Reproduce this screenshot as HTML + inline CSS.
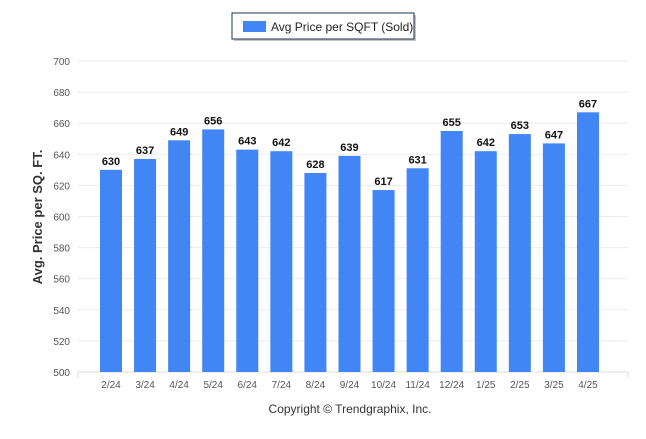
<!DOCTYPE html>
<html><head><meta charset="utf-8"><style>
body{margin:0;background:#fff;font-family:"Liberation Sans",sans-serif}
</style></head><body>
<svg width="646" height="434" viewBox="0 0 646 434" xmlns="http://www.w3.org/2000/svg">
<rect x="0" y="0" width="646" height="434" fill="#fff"/>
<g>
<rect x="234" y="15" width="182" height="26" fill="#888" opacity="0.5"/>
<rect x="232" y="13" width="182" height="26" fill="#fff" stroke="#1f3050" stroke-width="1"/>
<rect x="243" y="21" width="23" height="11" fill="#4285f4"/>
<text x="271" y="31" font-size="12" fill="#222">Avg Price per SQFT (Sold)</text>
</g>
<g id="grid"></g>
<g id="bars"></g>
<text transform="translate(42,217) rotate(-90)" text-anchor="middle" font-size="13" font-weight="bold" fill="#333">Avg. Price per SQ. FT.</text>
<text x="350" y="413" text-anchor="middle" font-size="12" fill="#333">Copyright © Trendgraphix, Inc.</text>
</svg>
<script>
const categories=["2/24","3/24","4/24","5/24","6/24","7/24","8/24","9/24","10/24","11/24","12/24","1/25","2/25","3/25","4/25"];
const values=[630,637,649,656,643,642,628,639,617,631,655,642,653,647,667];
const yTicks=[500,520,540,560,580,600,620,640,660,680,700];
const NS="http://www.w3.org/2000/svg";
const x0=78,x1=628,yMin=500,yMax=700,py0=372,py1=61;
const y=v=>py0-(v-yMin)/(yMax-yMin)*(py0-py1);
const step=34.07,first=111;
const x=i=>first+i*step;
function mk(t,a,p){const e=document.createElementNS(NS,t);for(const k in a)e.setAttribute(k,a[k]);p.appendChild(e);return e;}
const g=document.getElementById('grid'),b=document.getElementById('bars');
yTicks.forEach(v=>{
const l=mk('line',{x1:x0,x2:x1,y1:y(v),y2:y(v),stroke:v===500?'#ddd':'#ebebeb','stroke-width':1},g);


const t=mk('text',{x:70,y:y(v)+4,'text-anchor':'end','font-size':10,fill:'#555'},g);
t.textContent=v;


});
mk('line',{x1:x0,x2:x0,y1:py0,y2:py0+6,stroke:'#ddd'},g);
mk('line',{x1:x1,x2:x1,y1:py0,y2:py0+6,stroke:'#ddd'},g);
values.forEach((v,i)=>{
const r=mk('rect',{x:x(i)-11,y:y(v),width:22,height:py0-y(v),fill:'#4285f4'},b);


const t=mk('text',{x:x(i),y:y(v)-5,'text-anchor':'middle','font-size':11,'font-weight':'bold',fill:'#111'},b);
t.textContent=v;


const c=mk('text',{x:x(i),y:py0+16,'text-anchor':'middle','font-size':10,fill:'#555'},b);
c.textContent=categories[i];


});
</script>
</body></html>
